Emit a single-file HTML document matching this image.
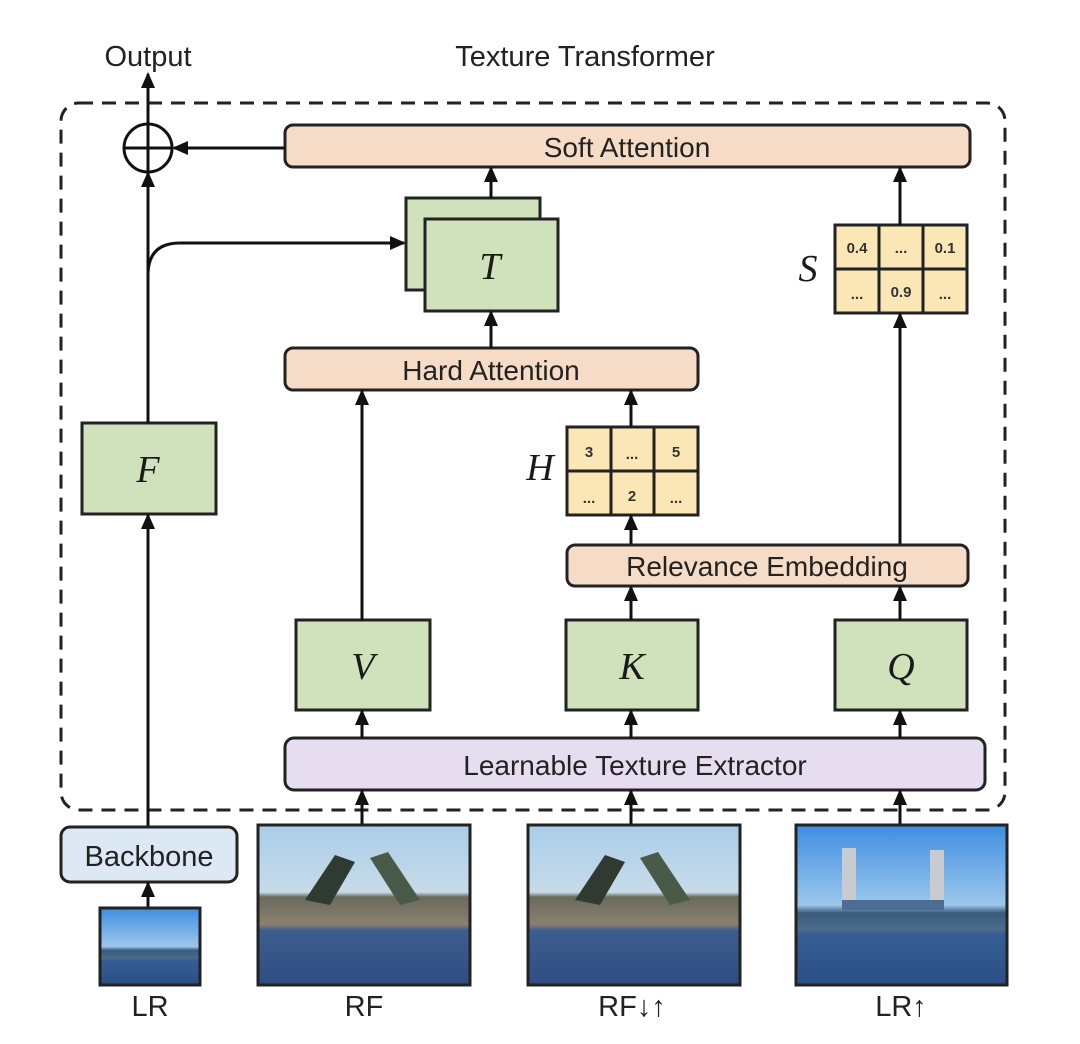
<!DOCTYPE html>
<html><head><meta charset="utf-8"><style>
html,body{margin:0;padding:0;background:#fff;}
svg{display:block;}
text{font-family:"Liberation Sans",sans-serif;fill:#222;}
.m{font-family:"Liberation Serif",serif;font-style:italic;font-size:38px;fill:#1a1a1a;}
.c{font-family:"Liberation Sans",sans-serif;font-weight:bold;font-size:15px;fill:#333;}
</style></head><body>
<svg width="1080" height="1044" viewBox="0 0 1080 1044" xmlns="http://www.w3.org/2000/svg">
<defs>
<marker id="a" markerWidth="16" markerHeight="14" refX="14" refY="7" orient="auto" markerUnits="userSpaceOnUse">
<path d="M0,0 L16,7 L0,14 z" fill="#111"/></marker>
<linearGradient id="img1" x1="0" y1="0" x2="0" y2="1">
<stop offset="0" stop-color="#a9cdea"/><stop offset="0.42" stop-color="#c7dbe8"/><stop offset="0.45" stop-color="#6a6a5c"/><stop offset="0.62" stop-color="#8a8070"/><stop offset="0.66" stop-color="#3d5d8e"/><stop offset="1" stop-color="#2e4e82"/></linearGradient>
<linearGradient id="img2" x1="0" y1="0" x2="0" y2="1">
<stop offset="0" stop-color="#3f8ee0"/><stop offset="0.5" stop-color="#9cc7ec"/><stop offset="0.55" stop-color="#3a5a7a"/><stop offset="0.65" stop-color="#4a6c8a"/><stop offset="0.68" stop-color="#355e95"/><stop offset="1" stop-color="#2b4f86"/></linearGradient>
</defs>

<text x="148" y="66" font-size="29" text-anchor="middle">Output</text>
<text x="585" y="66" font-size="29" text-anchor="middle">Texture Transformer</text>

<rect x="61" y="103" width="944" height="707" rx="18" fill="none" stroke="#222" stroke-width="3" stroke-dasharray="14,9"/>

<circle cx="148" cy="148" r="24" fill="#fff" stroke="#111" stroke-width="3"/>
<line x1="124" y1="148" x2="172" y2="148" stroke="#111" stroke-width="3"/>
<line x1="148" y1="124" x2="148" y2="172" stroke="#111" stroke-width="3"/>
<line x1="148" y1="124" x2="148" y2="74" stroke="#111" stroke-width="3" marker-end="url(#a)"/>

<rect x="285" y="125" width="685" height="42" rx="8" fill="#f6dcc6" stroke="#222" stroke-width="3"/>
<text x="627" y="157" font-size="28" text-anchor="middle">Soft Attention</text>
<line x1="285" y1="148" x2="174" y2="148" stroke="#111" stroke-width="3" marker-end="url(#a)"/>

<rect x="406" y="198" width="134" height="92" fill="#cfe2bc" stroke="#222" stroke-width="3"/>
<rect x="425" y="219" width="133" height="92" fill="#cfe2bc" stroke="#222" stroke-width="3"/>
<text x="490" y="279" class="m" text-anchor="middle">T</text>
<line x1="491" y1="198" x2="491" y2="168" stroke="#111" stroke-width="3" marker-end="url(#a)"/>
<path d="M148,275 Q148,243 180,243 L404,243" fill="none" stroke="#111" stroke-width="3" marker-end="url(#a)"/>

<rect x="285" y="348" width="413" height="42" rx="8" fill="#f6dcc6" stroke="#222" stroke-width="3"/>
<text x="491" y="380" font-size="28" text-anchor="middle">Hard Attention</text>
<line x1="491" y1="348" x2="491" y2="312" stroke="#111" stroke-width="3" marker-end="url(#a)"/>

<text x="808" y="281" class="m" text-anchor="middle">S</text>
<g stroke="#222" stroke-width="3" fill="#fbe7b5">
<rect x="835" y="225" width="132" height="88"/>
<line x1="879" y1="225" x2="879" y2="313"/><line x1="923" y1="225" x2="923" y2="313"/>
<line x1="835" y1="269" x2="967" y2="269"/></g>
<text x="857" y="253" class="c" text-anchor="middle">0.4</text><text x="901" y="253" class="c" text-anchor="middle">...</text><text x="945" y="253" class="c" text-anchor="middle">0.1</text>
<text x="857" y="299" class="c" text-anchor="middle">...</text><text x="901" y="297" class="c" text-anchor="middle">0.9</text><text x="945" y="299" class="c" text-anchor="middle">...</text>
<line x1="900" y1="225" x2="900" y2="168" stroke="#111" stroke-width="3" marker-end="url(#a)"/>
<line x1="900" y1="545" x2="900" y2="314" stroke="#111" stroke-width="3" marker-end="url(#a)"/>

<text x="540" y="480" class="m" text-anchor="middle">H</text>
<g stroke="#222" stroke-width="3" fill="#fbe7b5">
<rect x="567" y="427" width="131" height="88"/>
<line x1="611" y1="427" x2="611" y2="515"/><line x1="654" y1="427" x2="654" y2="515"/>
<line x1="567" y1="471" x2="698" y2="471"/></g>
<text x="589" y="457" class="c" text-anchor="middle">3</text><text x="632" y="459" class="c" text-anchor="middle">...</text><text x="676" y="457" class="c" text-anchor="middle">5</text>
<text x="589" y="503" class="c" text-anchor="middle">...</text><text x="632" y="501" class="c" text-anchor="middle">2</text><text x="676" y="503" class="c" text-anchor="middle">...</text>
<line x1="631" y1="427" x2="631" y2="391" stroke="#111" stroke-width="3" marker-end="url(#a)"/>
<line x1="631" y1="545" x2="631" y2="516" stroke="#111" stroke-width="3" marker-end="url(#a)"/>

<rect x="567" y="545" width="401" height="41" rx="8" fill="#f6dcc6" stroke="#222" stroke-width="3"/>
<text x="767" y="576" font-size="28" text-anchor="middle">Relevance Embedding</text>

<rect x="82" y="423" width="134" height="91" fill="#cfe2bc" stroke="#222" stroke-width="3"/>
<text x="148" y="482" class="m" text-anchor="middle">F</text>
<line x1="148" y1="423" x2="148" y2="173" stroke="#111" stroke-width="3" marker-end="url(#a)"/>
<line x1="148" y1="827" x2="148" y2="515" stroke="#111" stroke-width="3" marker-end="url(#a)"/>

<rect x="296" y="620" width="134" height="90" fill="#cfe2bc" stroke="#222" stroke-width="3"/>
<text x="363" y="679" class="m" text-anchor="middle">V</text>
<rect x="566" y="620" width="132" height="90" fill="#cfe2bc" stroke="#222" stroke-width="3"/>
<text x="632" y="679" class="m" text-anchor="middle">K</text>
<rect x="835" y="620" width="132" height="90" fill="#cfe2bc" stroke="#222" stroke-width="3"/>
<text x="901" y="679" class="m" text-anchor="middle">Q</text>
<line x1="362" y1="620" x2="362" y2="391" stroke="#111" stroke-width="3" marker-end="url(#a)"/>
<line x1="631" y1="620" x2="631" y2="587" stroke="#111" stroke-width="3" marker-end="url(#a)"/>
<line x1="900" y1="620" x2="900" y2="587" stroke="#111" stroke-width="3" marker-end="url(#a)"/>

<rect x="285" y="738" width="700" height="52" rx="9" fill="#e6ddf0" stroke="#222" stroke-width="3"/>
<text x="635" y="775" font-size="28" text-anchor="middle">Learnable Texture Extractor</text>
<line x1="362" y1="738" x2="362" y2="711" stroke="#111" stroke-width="3" marker-end="url(#a)"/>
<line x1="631" y1="738" x2="631" y2="711" stroke="#111" stroke-width="3" marker-end="url(#a)"/>
<line x1="900" y1="738" x2="900" y2="711" stroke="#111" stroke-width="3" marker-end="url(#a)"/>
<line x1="362" y1="825" x2="362" y2="791" stroke="#111" stroke-width="3" marker-end="url(#a)"/>
<line x1="631" y1="825" x2="631" y2="791" stroke="#111" stroke-width="3" marker-end="url(#a)"/>
<line x1="900" y1="825" x2="900" y2="791" stroke="#111" stroke-width="3" marker-end="url(#a)"/>

<rect x="61" y="827" width="176" height="55" rx="9" fill="#dce8f4" stroke="#222" stroke-width="3"/>
<text x="149" y="866" font-size="29" text-anchor="middle">Backbone</text>
<line x1="148" y1="908" x2="148" y2="883" stroke="#111" stroke-width="3" marker-end="url(#a)"/>

<rect x="100" y="908" width="100" height="77" fill="url(#img2)" stroke="#222" stroke-width="3"/>
<rect x="258" y="825" width="212" height="160" fill="url(#img1)" stroke="#222" stroke-width="3"/>
<path d="M305,900 L335,855 L355,862 L330,905 z" fill="#2f3a30"/><path d="M370,858 L388,852 L420,900 L400,905 z" fill="#4a5a48"/>
<rect x="528" y="825" width="212" height="160" fill="url(#img1)" stroke="#222" stroke-width="3"/>
<path d="M575,900 L605,855 L625,862 L600,905 z" fill="#2f3a30"/><path d="M640,858 L658,852 L690,900 L670,905 z" fill="#4a5a48"/>
<rect x="796" y="825" width="211" height="160" fill="url(#img2)" stroke="#222" stroke-width="3"/>
<rect x="842" y="848" width="14" height="60" fill="#c8ccd0"/><rect x="930" y="850" width="14" height="58" fill="#c8ccd0"/>
<rect x="842" y="900" width="102" height="10" fill="#4d6c94"/>

<text x="150" y="1016" font-size="29" text-anchor="middle">LR</text>
<text x="364" y="1016" font-size="29" text-anchor="middle">RF</text>
<text x="632" y="1016" font-size="29" text-anchor="middle">RF↓↑</text>
<text x="901" y="1016" font-size="29" text-anchor="middle">LR↑</text>
</svg>
</body></html>
